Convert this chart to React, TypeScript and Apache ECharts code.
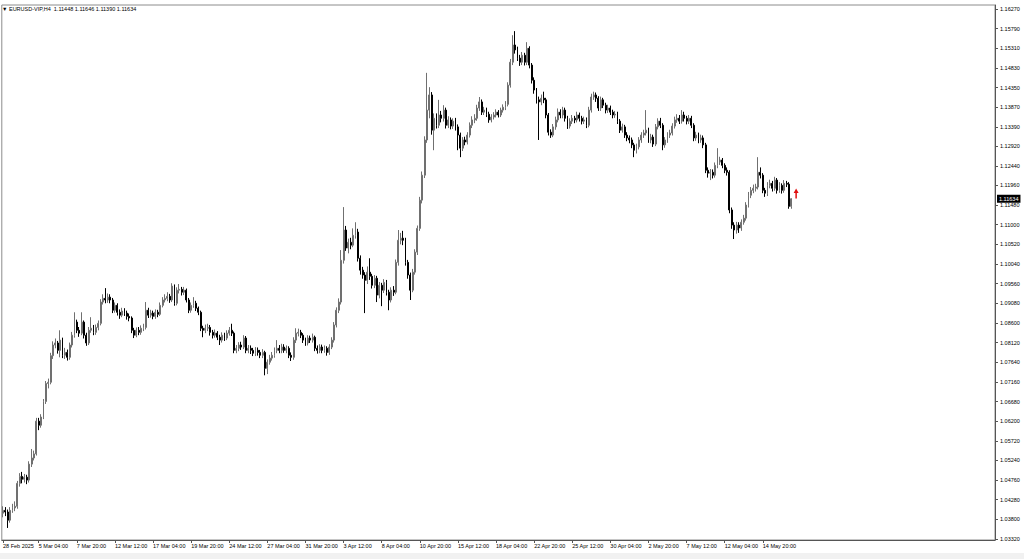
import React, { useEffect, useRef } from "react";
import * as echarts from "echarts";

const FONT = "'Liberation Sans', Arial, sans-serif";

const symbolName = "EURUSD-VIP,H4";
const firstOpen = 1.0395;

const closes = [
  1.0402, 1.0398, 1.0378, 1.0402, 1.0408, 1.0412, 1.0468, 1.0485, 1.0478, 1.0483,
  1.0476, 1.0515, 1.0530, 1.0540, 1.0620, 1.0610, 1.0630, 1.0668, 1.0712, 1.0715,
  1.0780, 1.0806, 1.0811, 1.0793, 1.0818, 1.0781, 1.0788, 1.0776, 1.0806, 1.0830,
  1.0862, 1.0842, 1.0835, 1.0862, 1.0830, 1.0811, 1.0842, 1.0847, 1.0837, 1.0849,
  1.0859, 1.0911, 1.0920, 1.0916, 1.0923, 1.0916, 1.0891, 1.0903, 1.0886, 1.0879,
  1.0889, 1.0884, 1.0876, 1.0872, 1.0842, 1.0830, 1.0842, 1.0837, 1.0847, 1.0849,
  1.0891, 1.0879, 1.0884, 1.0876, 1.0886, 1.0881, 1.0903, 1.0916, 1.0920, 1.0925,
  1.0916, 1.0950, 1.0908, 1.0940, 1.0942, 1.0935, 1.0940, 1.0916, 1.0891, 1.0903,
  1.0908, 1.0896, 1.0886, 1.0847, 1.0842, 1.0847, 1.0849, 1.0837, 1.0830, 1.0835,
  1.0825, 1.0818, 1.0830, 1.0823, 1.0835, 1.0842, 1.0835, 1.0793, 1.0798, 1.0806,
  1.0801, 1.0823, 1.0793, 1.0798, 1.0793, 1.0786, 1.0793, 1.0788, 1.0781, 1.0788,
  1.0749, 1.0764, 1.0774, 1.0781, 1.0793, 1.0798, 1.0793, 1.0801, 1.0793, 1.0798,
  1.0781, 1.0776, 1.0818, 1.0835, 1.0837, 1.0830, 1.0818, 1.0811, 1.0823, 1.0818,
  1.0825, 1.0798, 1.0793, 1.0801, 1.0793, 1.0798, 1.0788, 1.0801, 1.0818, 1.0855,
  1.0891, 1.0911, 1.1013, 1.1087, 1.1043, 1.1057, 1.1050, 1.1074, 1.1082, 1.1018,
  1.0989, 1.0977, 1.0964, 1.0984, 1.0974, 1.0952, 1.0969, 1.0928, 1.0952, 1.0940,
  1.0959, 1.0935, 1.0916, 1.0940, 1.0935, 1.1008, 1.1062, 1.1067, 1.1062, 1.1008,
  1.0977, 1.0940, 1.0984, 1.1033, 1.1091, 1.1160, 1.1221, 1.1307, 1.1380, 1.1417,
  1.1331, 1.1360, 1.1343, 1.1368, 1.1360, 1.1380, 1.1343, 1.1356, 1.1341, 1.1353,
  1.1339, 1.1319, 1.1287, 1.1307, 1.1302, 1.1319, 1.1343, 1.1356, 1.1360, 1.1385,
  1.1400, 1.1375, 1.1380, 1.1370, 1.1356, 1.1363, 1.1368, 1.1375, 1.1368, 1.1380,
  1.1387, 1.1394, 1.1441, 1.1497, 1.1539, 1.1527, 1.1507, 1.1497, 1.1514, 1.1497,
  1.1531, 1.1490, 1.1453, 1.1429, 1.1405, 1.1400, 1.1409, 1.1405, 1.1368, 1.1326,
  1.1319, 1.1339, 1.1356, 1.1375, 1.1368, 1.1380, 1.1360, 1.1341, 1.1353, 1.1360,
  1.1356, 1.1368, 1.1360, 1.1353, 1.1356, 1.1343, 1.1380, 1.1412, 1.1417, 1.1409,
  1.1385, 1.1405, 1.1392, 1.1380, 1.1385, 1.1375, 1.1368, 1.1370, 1.1353, 1.1331,
  1.1339, 1.1319, 1.1312, 1.1307, 1.1295, 1.1282, 1.1290, 1.1307, 1.1319, 1.1324,
  1.1331, 1.1307, 1.1314, 1.1297, 1.1339, 1.1353, 1.1343, 1.1295, 1.1307, 1.1319,
  1.1324, 1.1341, 1.1356, 1.1360, 1.1353, 1.1368, 1.1360, 1.1353, 1.1360, 1.1343,
  1.1312, 1.1319, 1.1307, 1.1312, 1.1295, 1.1233, 1.1226, 1.1228, 1.1221, 1.1245,
  1.1253, 1.1258, 1.1245, 1.1233, 1.1228, 1.1136, 1.1099, 1.1087, 1.1099, 1.1092,
  1.1106, 1.1116, 1.1148, 1.1172, 1.1184, 1.1189, 1.1192, 1.1228, 1.1221, 1.1184,
  1.1177, 1.1196, 1.1201, 1.1189, 1.1209, 1.1184, 1.1196, 1.1184, 1.1201, 1.1199,
  1.11448, 1.11634,
];

const highs = [
  1.0412, 1.0410, 1.0404, 1.0410, 1.0418, 1.0424, 1.0474, 1.0493, 1.0496, 1.0491,
  1.0489, 1.0522, 1.0552, 1.0548, 1.0628, 1.0628, 1.0637, 1.0674, 1.0718, 1.0724,
  1.0787, 1.0815, 1.0822, 1.0816, 1.0842, 1.0824, 1.0799, 1.0795, 1.0812, 1.0838,
  1.0886, 1.0868, 1.0850, 1.0886, 1.0866, 1.0836, 1.0850, 1.0874, 1.0855, 1.0856,
  1.0866, 1.0918, 1.0930, 1.0945, 1.0932, 1.0930, 1.0921, 1.0910, 1.0908, 1.0893,
  1.0897, 1.0896, 1.0890, 1.0883, 1.0876, 1.0848, 1.0849, 1.0850, 1.0854, 1.0858,
  1.0911, 1.0897, 1.0892, 1.0890, 1.0893, 1.0892, 1.0910, 1.0923, 1.0930, 1.0935,
  1.0931, 1.0957, 1.0954, 1.0947, 1.0955, 1.0948, 1.0948, 1.0944, 1.0921, 1.0910,
  1.0923, 1.0914, 1.0900, 1.0890, 1.0853, 1.0856, 1.0858, 1.0855, 1.0843, 1.0844,
  1.0840, 1.0831, 1.0837, 1.0836, 1.0842, 1.0850, 1.0858, 1.0839, 1.0806, 1.0813,
  1.0814, 1.0830, 1.0828, 1.0806, 1.0805, 1.0799, 1.0801, 1.0800, 1.0794, 1.0796,
  1.0792, 1.0771, 1.0782, 1.0789, 1.0800, 1.0818, 1.0806, 1.0809, 1.0808, 1.0805,
  1.0803, 1.0788, 1.0825, 1.0847, 1.0846, 1.0843, 1.0835, 1.0824, 1.0830, 1.0829,
  1.0834, 1.0829, 1.0805, 1.0808, 1.0807, 1.0805, 1.0803, 1.0808, 1.0825, 1.0862,
  1.0898, 1.0920, 1.1038, 1.1143, 1.1097, 1.1066, 1.1068, 1.1091, 1.1106, 1.1090,
  1.1025, 1.0997, 1.0984, 1.0998, 1.1018, 1.0980, 1.0977, 1.0975, 1.0960, 1.0958,
  1.0967, 1.0965, 1.0941, 1.0947, 1.0950, 1.1015, 1.1087, 1.1080, 1.1085, 1.1068,
  1.1014, 1.0983, 1.0992, 1.1040, 1.1098, 1.1168, 1.1230, 1.1316, 1.1471, 1.1436,
  1.1424, 1.1372, 1.1372, 1.1405, 1.1378, 1.1392, 1.1386, 1.1365, 1.1362, 1.1360,
  1.1361, 1.1345, 1.1325, 1.1314, 1.1315, 1.1326, 1.1350, 1.1365, 1.1370, 1.1393,
  1.1412, 1.1406, 1.1388, 1.1386, 1.1376, 1.1370, 1.1375, 1.1382, 1.1380, 1.1386,
  1.1394, 1.1402, 1.1448, 1.1505, 1.1563, 1.1573, 1.1535, 1.1515, 1.1522, 1.1520,
  1.1546, 1.1536, 1.1495, 1.1460, 1.1434, 1.1413, 1.1418, 1.1425, 1.1410, 1.1373,
  1.1333, 1.1346, 1.1364, 1.1384, 1.1382, 1.1388, 1.1386, 1.1366, 1.1360, 1.1368,
  1.1366, 1.1376, 1.1374, 1.1366, 1.1364, 1.1362, 1.1388, 1.1420, 1.1425, 1.1423,
  1.1414, 1.1413, 1.1410, 1.1398, 1.1393, 1.1391, 1.1381, 1.1378, 1.1376, 1.1358,
  1.1347, 1.1344, 1.1326, 1.1318, 1.1313, 1.1300, 1.1298, 1.1314, 1.1326, 1.1332,
  1.1380, 1.1337, 1.1322, 1.1320, 1.1346, 1.1360, 1.1361, 1.1348, 1.1314, 1.1326,
  1.1332, 1.1348, 1.1364, 1.1370, 1.1368, 1.1380, 1.1376, 1.1366, 1.1368, 1.1366,
  1.1348, 1.1327, 1.1325, 1.1320, 1.1318, 1.1300, 1.1240, 1.1236, 1.1235, 1.1252,
  1.1287, 1.1266, 1.1263, 1.1250, 1.1240, 1.1233, 1.1142, 1.1106, 1.1107, 1.1106,
  1.1113, 1.1124, 1.1155, 1.1180, 1.1192, 1.1198, 1.1200, 1.1265, 1.1240, 1.1226,
  1.1190, 1.1204, 1.1210, 1.1207, 1.1217, 1.1214, 1.1204, 1.1201, 1.1209, 1.1207,
  1.1204, 1.11646,
];

const lows = [
  1.0385, 1.0388, 1.0359, 1.0372, 1.0396, 1.0400, 1.0406, 1.0460, 1.0468, 1.0470,
  1.0466, 1.0470, 1.0508, 1.0524, 1.0536, 1.0598, 1.0604, 1.0625, 1.0662, 1.0700,
  1.0710, 1.0772, 1.0798, 1.0785, 1.0776, 1.0774, 1.0772, 1.0768, 1.0770, 1.0800,
  1.0824, 1.0835, 1.0826, 1.0830, 1.0822, 1.0804, 1.0806, 1.0836, 1.0830, 1.0831,
  1.0842, 1.0854, 1.0905, 1.0908, 1.0909, 1.0908, 1.0884, 1.0885, 1.0878, 1.0870,
  1.0874, 1.0877, 1.0868, 1.0864, 1.0835, 1.0823, 1.0825, 1.0830, 1.0831, 1.0840,
  1.0844, 1.0872, 1.0873, 1.0869, 1.0870, 1.0874, 1.0877, 1.0898, 1.0910, 1.0913,
  1.0909, 1.0911, 1.0902, 1.0903, 1.0932, 1.0927, 1.0928, 1.0910, 1.0884, 1.0885,
  1.0897, 1.0889, 1.0879, 1.0840, 1.0825, 1.0835, 1.0840, 1.0829, 1.0822, 1.0824,
  1.0818, 1.0806, 1.0812, 1.0816, 1.0818, 1.0829, 1.0828, 1.0786, 1.0786, 1.0791,
  1.0794, 1.0796, 1.0786, 1.0786, 1.0784, 1.0779, 1.0779, 1.0780, 1.0774, 1.0774,
  1.0732, 1.0735, 1.0758, 1.0768, 1.0775, 1.0786, 1.0786, 1.0786, 1.0787, 1.0786,
  1.0774, 1.0767, 1.0770, 1.0811, 1.0827, 1.0823, 1.0811, 1.0804, 1.0805, 1.0811,
  1.0812, 1.0791, 1.0785, 1.0786, 1.0786, 1.0787, 1.0780, 1.0782, 1.0796, 1.0812,
  1.0849, 1.0884, 1.0905, 1.1005, 1.1036, 1.1030, 1.1040, 1.1045, 1.1066, 1.1010,
  1.0978, 1.0968, 1.0884, 1.0955, 1.0965, 1.0944, 1.0945, 1.0911, 1.0920, 1.0901,
  1.0933, 1.0927, 1.0891, 1.0910, 1.0926, 1.0930, 1.1000, 1.1052, 1.1050, 1.1000,
  1.0968, 1.0916, 1.0935, 1.0978, 1.1026, 1.1085, 1.1152, 1.1214, 1.1300, 1.1360,
  1.1320, 1.1282, 1.1335, 1.1336, 1.1350, 1.1352, 1.1335, 1.1336, 1.1333, 1.1334,
  1.1330, 1.1282, 1.1265, 1.1280, 1.1294, 1.1296, 1.1313, 1.1336, 1.1348, 1.1354,
  1.1378, 1.1368, 1.1368, 1.1363, 1.1349, 1.1350, 1.1357, 1.1362, 1.1362, 1.1363,
  1.1374, 1.1380, 1.1389, 1.1435, 1.1490, 1.1518, 1.1500, 1.1488, 1.1490, 1.1489,
  1.1490, 1.1482, 1.1445, 1.1420, 1.1396, 1.1307, 1.1392, 1.1397, 1.1360, 1.1318,
  1.1312, 1.1314, 1.1332, 1.1350, 1.1360, 1.1360, 1.1352, 1.1334, 1.1335, 1.1346,
  1.1348, 1.1350, 1.1352, 1.1345, 1.1346, 1.1336, 1.1338, 1.1374, 1.1405, 1.1400,
  1.1378, 1.1378, 1.1385, 1.1372, 1.1373, 1.1368, 1.1360, 1.1361, 1.1346, 1.1324,
  1.1325, 1.1312, 1.1304, 1.1299, 1.1287, 1.1265, 1.1274, 1.1284, 1.1300, 1.1312,
  1.1318, 1.1300, 1.1299, 1.1290, 1.1292, 1.1333, 1.1336, 1.1282, 1.1288, 1.1300,
  1.1312, 1.1318, 1.1335, 1.1349, 1.1346, 1.1347, 1.1352, 1.1345, 1.1346, 1.1336,
  1.1304, 1.1305, 1.1299, 1.1300, 1.1287, 1.1226, 1.1215, 1.1209, 1.1213, 1.1215,
  1.1238, 1.1246, 1.1238, 1.1226, 1.1220, 1.1128, 1.1090, 1.1065, 1.1078, 1.1080,
  1.1085, 1.1100, 1.1110, 1.1142, 1.1165, 1.1177, 1.1181, 1.1186, 1.1213, 1.1177,
  1.1168, 1.1170, 1.1189, 1.1181, 1.1183, 1.1176, 1.1178, 1.1176, 1.1178, 1.1192,
  1.1139, 1.1139,
];

const priceTicks = [
  1.1627, 1.1579, 1.1531, 1.1483, 1.1435, 1.1387, 1.1339, 1.1292, 1.1244, 1.1196,
  1.1148, 1.11, 1.1052, 1.1004, 1.0956, 1.0908, 1.086, 1.0812, 1.0764, 1.0716,
  1.0668, 1.062, 1.0572, 1.0524, 1.0476, 1.0428, 1.038, 1.0332,
];

const xTickLabels = [
  "28 Feb 2025", "5 Mar 04:00", "7 Mar 20:00", "12 Mar 12:00", "17 Mar 04:00",
  "19 Mar 20:00", "24 Mar 12:00", "27 Mar 04:00", "31 Mar 20:00", "3 Apr 12:00",
  "8 Apr 04:00", "10 Apr 20:00", "15 Apr 12:00", "18 Apr 04:00", "22 Apr 20:00",
  "25 Apr 12:00", "30 Apr 04:00", "2 May 20:00", "7 May 12:00", "12 May 04:00",
  "14 May 20:00",
];

const arrowMark = { bar: 333, price: 1.1176 };

const MONTHS = ["Jan", "Feb", "Mar", "Apr", "May", "Jun", "Jul", "Aug", "Sep", "Oct", "Nov", "Dec"];

function buildCategories(n: number): string[] {
  const out: string[] = [];
  let t = Date.UTC(2025, 1, 28, 16);
  while (out.length < n) {
    const d = new Date(t);
    const wd = d.getUTCDay();
    if (wd !== 0 && wd !== 6) {
      const hh = String(d.getUTCHours()).padStart(2, "0");
      out.push(`${d.getUTCDate()} ${MONTHS[d.getUTCMonth()]} ${hh}:00`);
    }
    t += 4 * 3600 * 1000;
  }
  return out;
}

const TOTAL_SLOTS = 417;
const Y_MIN = 1.03296;
const Y_MAX = 1.16368;

export default function App() {
  const ref = useRef<HTMLDivElement>(null);

  useEffect(() => {
    if (!ref.current) return;
    const chart = echarts.init(ref.current, null, { renderer: "svg" });

    const n = closes.length;
    const categories = buildCategories(n);
    const padded = categories.slice();
    for (let k = padded.length; k < TOTAL_SLOTS; k++) padded.push(`pad${k}`);

    const data = closes.map((c, i) => {
      const o = i === 0 ? firstOpen : closes[i - 1];
      const h = Math.max(highs[i], o, c);
      const l = Math.min(lows[i], o, c);
      return [o, c, l, h];
    });
    const last = data[n - 1];
    const header = `\u25BC ${symbolName}  ${last[0].toFixed(5)} ${last[3].toFixed(5)} ${last[2].toFixed(5)} ${last[1].toFixed(5)}`;

    const tickSet = new Set(xTickLabels);
    const showTick = (idx: number, val: string) => idx === 0 || tickSet.has(val);

    const option: any = {
      animation: false,
      backgroundColor: "#ffffff",
      textStyle: { fontFamily: FONT },
      title: {
        text: header,
        left: 2,
        top: 6,
        padding: 0,
        textStyle: { fontSize: 5.5, fontWeight: "normal", color: "#000", fontFamily: FONT },
      },
      grid: {
        left: 1,
        right: 29,
        top: 5,
        bottom: 19,
        show: true,
        borderColor: "#8c8c8c",
        borderWidth: 1,
        backgroundColor: "#ffffff",
      },
      xAxis: {
        type: "category",
        data: padded,
        boundaryGap: true,
        axisLine: { show: true, lineStyle: { color: "#555", width: 1 } },
        axisTick: {
          show: true,
          interval: showTick,
          alignWithLabel: true,
          length: 3,
          lineStyle: { color: "#555" },
        },
        axisLabel: {
          interval: showTick,
          formatter: (v: string, idx: number) => (idx === 0 ? xTickLabels[0] : v),
          align: "left",
          fontSize: 5.5,
          color: "#000",
          margin: 3,
          fontFamily: FONT,
        },
        splitLine: { show: false },
      },
      yAxis: [
        {
          type: "value",
          position: "right",
          min: Y_MIN,
          max: Y_MAX,
          scale: true,
          splitLine: { show: false },
          axisLine: { show: true, lineStyle: { color: "#555", width: 1 } },
          axisTick: {
            show: true,
            customValues: priceTicks,
            length: 3,
            lineStyle: { color: "#555" },
          },
          axisLabel: {
            customValues: priceTicks,
            formatter: (v: number) => v.toFixed(5),
            fontSize: 5.5,
            color: "#000",
            margin: 5,
            fontFamily: FONT,
          },
        },
        {
          type: "value",
          position: "right",
          min: Y_MIN,
          max: Y_MAX,
          scale: true,
          z: 10,
          splitLine: { show: false },
          axisLine: { show: false },
          axisTick: { show: false },
          axisLabel: {
            customValues: [last[1]],
            formatter: (v: number) => v.toFixed(5),
            fontSize: 5.5,
            color: "#fff",
            backgroundColor: "#000",
            padding: [1, 2, 1, 2],
            margin: 2,
            fontFamily: FONT,
          },
        },
      ],
      series: [
        {
          type: "candlestick",
          data,
          yAxisIndex: 0,
          barWidth: 1.4,
          itemStyle: {
            color: "#a6a6a6",
            borderColor: "#707070",
            color0: "#000000",
            borderColor0: "#000000",
            borderWidth: 1,
          },
          markPoint: {
            silent: true,
            symbol: "path://M5,0 L10,6 L6.5,6 L6.5,14 L3.5,14 L3.5,6 L0,6 Z",
            symbolSize: [5, 10],
            itemStyle: { color: "#e01010" },
            label: { show: false },
            data: [{ coord: [arrowMark.bar, arrowMark.price] }],
          },
        },
      ],
      graphic: [
        {
          type: "rect",
          left: 0,
          top: 553,
          silent: true,
          shape: { width: 1024, height: 6 },
          style: { fill: "#f1f1f1" },
        },
      ],
    };

    chart.setOption(option);
    return () => chart.dispose();
  }, []);

  return (
    <div
      ref={ref}
      style={{ position: "fixed", left: 0, top: 0, width: 1024, height: 559, background: "#fff" }}
    />
  );
}
